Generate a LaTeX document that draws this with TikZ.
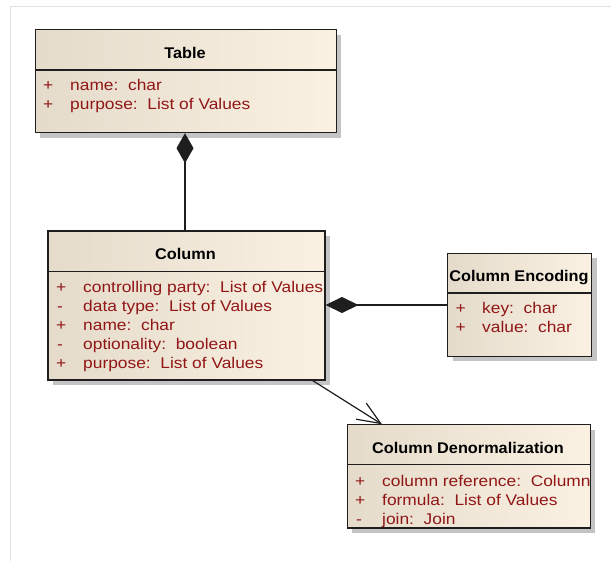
\documentclass[tikz,border=0pt]{standalone}
\usepackage{fontspec}
\setmainfont{Liberation Sans}
\newfontfamily\attrfont{Liberation Sans}[FakeStretch=1.12]
\newfontfamily\titlefont{Liberation Sans}[FakeStretch=1.05]
\usetikzlibrary{arrows.meta,shadows}
\definecolor{boxL}{RGB}{228,219,203}
\definecolor{boxR}{RGB}{251,241,226}
\definecolor{shadowgray}{RGB}{196,196,196}
\definecolor{framegray}{RGB}{226,226,226}
\definecolor{attrred}{RGB}{145,22,22}
\definecolor{edge}{RGB}{30,30,30}
\tikzset{
  umlbox/.style={draw=edge, line width=1.2pt, left color=boxL, right color=boxR,
    shading angle=90, rectangle, inner sep=0pt, anchor=north west,
    general shadow={fill=shadowgray, shadow xshift=5pt, shadow yshift=-5pt}},
  divider/.style={draw=edge, line width=1.2pt},
  title/.style={inner sep=0pt, anchor=base, font=\titlefont\bfseries\fontsize{15.5}{19}\selectfont, text=black},
  attr/.style={inner sep=0pt, anchor=base west, font=\attrfont\fontsize{15.5}{19}\selectfont, text=attrred},
  conn/.style={draw=edge, line width=1.2pt},
  compo/.style={conn, {Diamond[length=30pt, width=17pt]}-},
  compoh/.style={conn, {Diamond[length=33pt, width=16pt]}-},
  assoc/.style={conn, -{Straight Barb[length=23pt, width=19pt, line width=1.2pt]}}
}
\begin{document}
\begin{tikzpicture}[x=1pt, y=-1pt]
\useasboundingbox (0,0) rectangle (611,561);
% frame
\draw[framegray, line width=1.5pt] (10.5,561) -- (10.5,6.5) -- (611,6.5);

% Table
\node[umlbox, minimum width=301pt, minimum height=103pt] (table) at (34.5,29) {};
\draw[divider] ([yshift=-41pt]table.north west) -- ([yshift=-41pt]table.north east);
\node[title] (tabletitle) at (185,58.7) {Table};
\node[attr] (t1s) at (43,91) {+};
\node[attr] (t1) at (70,91) {name:\ \ char};
\node[attr] (t2s) at (43,110) {+};
\node[attr] (t2) at (70,110) {purpose:\ \ List of Values};

% Column
\node[umlbox, minimum width=277pt, minimum height=149pt] (column) at (47.3,230.5) {};
\draw[divider] ([yshift=-41.2pt]column.north west) -- ([yshift=-41.2pt]column.north east);
\node[title] (coltitle) at (185.5,259.5) {Column};
\node[attr] (c1s) at (56,293) {+};
\node[attr] (c1) at (83,293) {controlling party:\ \ List of Values};
\node[attr] (c2s) at (57,312) {-};
\node[attr] (c2) at (83,312) {data type:\ \ List of Values};
\node[attr] (c3s) at (56,331) {+};
\node[attr] (c3) at (83,331) {name:\ \ char};
\node[attr] (c4s) at (57,350) {-};
\node[attr] (c4) at (83,350) {optionality:\ \ boolean};
\node[attr] (c5s) at (56,369) {+};
\node[attr] (c5) at (83,369) {purpose:\ \ List of Values};

% Column Encoding
\node[umlbox, minimum width=144pt, minimum height=103pt] (enc) at (447,252.7) {};
\draw[divider] ([yshift=-40.3pt]enc.north west) -- ([yshift=-40.3pt]enc.north east);
\node[title] (enctitle) at (519,282) {Column Encoding};
\node[attr] (e1s) at (455.5,314) {+};
\node[attr] (e1) at (482,314) {key:\ \ char};
\node[attr] (e2s) at (455.5,333) {+};
\node[attr] (e2) at (482,333) {value:\ \ char};

% Column Denormalization
\node[umlbox, minimum width=243pt, minimum height=103pt] (denorm) at (346.5,424.3) {};
\draw[divider] ([yshift=-40.4pt]denorm.north west) -- ([yshift=-40.4pt]denorm.north east);
\node[title] (dentitle) at (468,453.3) {Column Denormalization};
\node[attr] (d1s) at (355,486) {+};
\node[attr] (d1) at (382,486) {column reference:\ \ Column};
\node[attr] (d2s) at (355,505) {+};
\node[attr] (d2) at (382,505) {formula:\ \ List of Values};
\node[attr] (d3s) at (356,524) {-};
\node[attr] (d3) at (382,524) {join:\ \ Join};

% connectors
\draw[compo] (table.south -| 185,0) -- (column.north -| 185,0);
\draw[compoh] (column.east |- 0,305) -- (enc.west |- 0,305);
\coordinate (arrs) at (311,379.5);
\coordinate (arre) at (382,424.3);
\draw[assoc] (arrs) -- (arre);
\end{tikzpicture}
\end{document}
